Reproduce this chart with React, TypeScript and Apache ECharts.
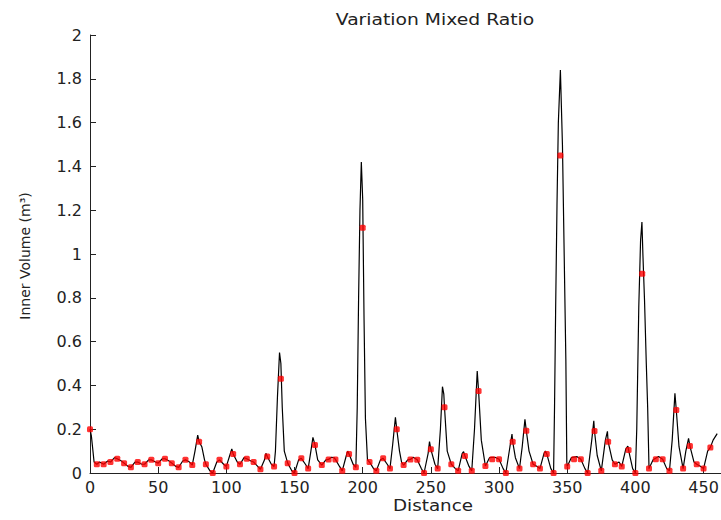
import React, { useEffect, useRef } from "react";
import * as echarts from "echarts";

// Red sample markers, one every DOT_STEP units of distance starting at 0
const DOT_STEP = 5;
const DOT_VALUES = [
  0.2, 0.04, 0.04, 0.05, 0.065, 0.045, 0.026, 0.05, 0.04, 0.06,
  0.045, 0.065, 0.045, 0.026, 0.06, 0.036, 0.143, 0.04, 0.0, 0.06,
  0.03, 0.087, 0.04, 0.065, 0.05, 0.017, 0.075, 0.03, 0.43, 0.045,
  0.0, 0.067, 0.02, 0.128, 0.036, 0.062, 0.062, 0.01, 0.087, 0.026,
  1.12, 0.05, 0.01, 0.067, 0.02, 0.2, 0.036, 0.062, 0.06, 0.0,
  0.108, 0.02, 0.3, 0.04, 0.01, 0.078, 0.01, 0.374, 0.032, 0.063,
  0.063, 0.0, 0.143, 0.02, 0.193, 0.04, 0.02, 0.087, 0.0, 1.45,
  0.03, 0.063, 0.063, 0.0, 0.192, 0.01, 0.143, 0.04, 0.03, 0.105,
  0.0, 0.91, 0.02, 0.063, 0.063, 0.01, 0.288, 0.02, 0.123, 0.04,
  0.02, 0.117,
];

// Black curve (finer resolution than the markers)
const LINE_X = [
  0, 1, 3, 5, 7, 10, 13, 15, 18, 20, 23, 25, 28, 30, 33, 35, 38, 40, 43, 45,
  48, 50, 53, 55, 58, 60, 63, 65, 68, 70, 73, 75, 77, 79, 80, 82, 84, 85, 88, 90,
  93, 95, 98, 100, 103, 104, 105, 108, 110, 113, 115, 118, 120, 123, 125, 128, 129, 130, 133, 135,
  136, 137.5, 139, 140, 141, 142.5, 145, 148, 150, 153, 155, 158, 160, 162, 163.5, 165, 167, 170, 173, 175,
  177, 179, 180, 183, 185, 188, 189, 190, 193, 195, 196, 197, 198, 199, 200, 201, 202, 203.5, 205, 208,
  210, 213, 215, 218, 220, 222, 224, 225, 227, 228.5, 230, 233, 235, 237, 240, 243, 245, 248, 249, 250,
  253, 255, 257, 258.5, 259.5, 260, 262, 265, 268, 270, 273, 274, 275, 278, 280, 282, 284, 285, 287, 290,
  293, 297, 300, 303, 305, 308, 309.5, 310, 312, 315, 317, 319, 320, 322, 325, 328, 330, 333, 334, 335,
  338, 340, 340.7, 341.5, 342.5, 343.5, 345, 346.5, 347.8, 349, 349.7, 350, 353, 357, 360, 363, 365, 368, 369.5, 370,
  372, 375, 378, 379.5, 380, 383, 385, 388, 390, 393, 394.5, 395, 398, 400, 401, 402.5, 403.8, 404.8, 405.5, 406.7,
  408, 409, 410, 413, 417, 420, 423, 425, 427, 429, 430, 432, 435, 437, 439, 440, 443, 445, 448, 450,
  453, 455, 457, 460,
];
const LINE_Y = [
  0.2, 0.17, 0.05, 0.04, 0.05, 0.04, 0.055, 0.05, 0.07, 0.065, 0.055, 0.045, 0.03, 0.026, 0.05, 0.05, 0.04, 0.04, 0.06, 0.06,
  0.05, 0.045, 0.065, 0.065, 0.055, 0.045, 0.03, 0.026, 0.055, 0.06, 0.05, 0.036, 0.1, 0.173, 0.143, 0.12, 0.06, 0.04, 0.01, 0.0,
  0.05, 0.06, 0.04, 0.03, 0.09, 0.11, 0.087, 0.05, 0.04, 0.07, 0.065, 0.055, 0.05, 0.03, 0.017, 0.06, 0.09, 0.075, 0.04, 0.03,
  0.1, 0.35, 0.55, 0.5, 0.3, 0.1, 0.045, 0.01, 0.0, 0.06, 0.067, 0.04, 0.02, 0.1, 0.163, 0.128, 0.06, 0.036, 0.06, 0.062,
  0.072, 0.07, 0.062, 0.03, 0.01, 0.08, 0.1, 0.087, 0.04, 0.026, 0.3, 0.8, 1.2, 1.42, 1.25, 0.7, 0.25, 0.06, 0.05, 0.02,
  0.01, 0.06, 0.067, 0.04, 0.02, 0.13, 0.254, 0.2, 0.1, 0.05, 0.036, 0.06, 0.062, 0.072, 0.06, 0.02, 0.0, 0.09, 0.143, 0.108,
  0.04, 0.02, 0.2, 0.394, 0.36, 0.3, 0.1, 0.04, 0.02, 0.01, 0.09, 0.097, 0.078, 0.03, 0.01, 0.2, 0.466, 0.374, 0.15, 0.032,
  0.07, 0.072, 0.063, 0.02, 0.0, 0.12, 0.178, 0.143, 0.07, 0.02, 0.12, 0.245, 0.193, 0.1, 0.04, 0.03, 0.02, 0.09, 0.1, 0.087,
  0.02, 0.0, 0.3, 0.74, 1.22, 1.6, 1.84, 1.5, 0.99, 0.52, 0.05, 0.03, 0.07, 0.075, 0.063, 0.02, 0.0, 0.15, 0.238, 0.192,
  0.08, 0.01, 0.15, 0.19, 0.143, 0.06, 0.04, 0.05, 0.03, 0.11, 0.123, 0.105, 0.02, 0.0, 0.2, 0.76, 1.06, 1.146, 1.0, 0.79,
  0.5, 0.3, 0.02, 0.06, 0.075, 0.063, 0.02, 0.01, 0.15, 0.364, 0.288, 0.12, 0.02, 0.1, 0.158, 0.123, 0.05, 0.04, 0.03, 0.02,
  0.1, 0.117, 0.15, 0.18,
];

const TITLE = "Variation Mixed Ratio";
const X_NAME = "Distance";
const Y_NAME = "Inner Volume (m³)";
const X_MIN = 0;
const X_MAX = 500;
const X_INTERVAL = 50;
const Y_MIN = 0;
const Y_MAX = 2;
const Y_INTERVAL = 0.2;

export default function App() {
  const ref = useRef<HTMLDivElement>(null);

  useEffect(() => {
    if (!ref.current) return;
    const chart = echarts.init(ref.current, undefined, { renderer: "svg" });
    const lineData = LINE_X.map((x, i) => [x, LINE_Y[i]]);
    const dotData = DOT_VALUES.map((v, i) => [i * DOT_STEP, v]);
    const axisColor = "#222";
    const font = "DejaVu Sans";
    chart.setOption({
      animation: false,
      backgroundColor: "#ffffff",
      grid: { left: 90, right: 7.5, top: 35, bottom: 47, containLabel: false },
      xAxis: {
        type: "value",
        min: X_MIN,
        max: X_MAX,
        interval: X_INTERVAL,
        axisLine: { show: true, onZero: false, lineStyle: { color: axisColor, width: 1 } },
        axisTick: { show: true, inside: true, length: 6, lineStyle: { color: axisColor } },
        axisLabel: { color: axisColor, fontFamily: font, fontSize: 16, margin: 6 },
        splitLine: { show: false },
      },
      yAxis: {
        type: "value",
        min: Y_MIN,
        max: Y_MAX,
        interval: Y_INTERVAL,
        axisLine: { show: true, lineStyle: { color: axisColor, width: 1 } },
        axisTick: { show: true, inside: true, length: 6, lineStyle: { color: axisColor } },
        axisLabel: { color: axisColor, fontFamily: font, fontSize: 16, margin: 8 },
        splitLine: { show: false },
      },
      series: [
        {
          type: "line",
          data: lineData,
          symbol: "none",
          showSymbol: false,
          lineStyle: { color: "#000", width: 1.2 },
          z: 2,
        },
        {
          type: "scatter",
          data: dotData,
          symbol: "roundRect",
          symbolSize: 6,
          itemStyle: { color: "#ff0000" },
          z: 3,
        },
      ],
      graphic: [
        {
          type: "text",
          x: 435,
          y: 20,
          scaleX: 1.25,
          style: {
            text: TITLE,
            fontSize: 15,
            fontFamily: font,
            fill: "#222",
            align: "center",
            verticalAlign: "middle",
          },
        },
        {
          type: "text",
          x: 433,
          y: 506,
          scaleX: 1.22,
          style: {
            text: X_NAME,
            fontSize: 15,
            fontFamily: font,
            fill: "#222",
            align: "center",
            verticalAlign: "middle",
          },
        },
        {
          type: "text",
          x: 25,
          y: 256,
          rotation: Math.PI / 2,
          style: {
            text: Y_NAME,
            fontSize: 14,
            fontFamily: font,
            fill: "#222",
            align: "center",
            verticalAlign: "middle",
          },
        },
      ],
    });
    return () => chart.dispose();
  }, []);

  return (
    <div
      style={{
        position: "absolute",
        left: 0,
        top: 0,
        width: 721,
        height: 520,
        overflow: "hidden",
        background: "#fff",
      }}
    >
      <div ref={ref} style={{ width: 790, height: 520 }} />
    </div>
  );
}
